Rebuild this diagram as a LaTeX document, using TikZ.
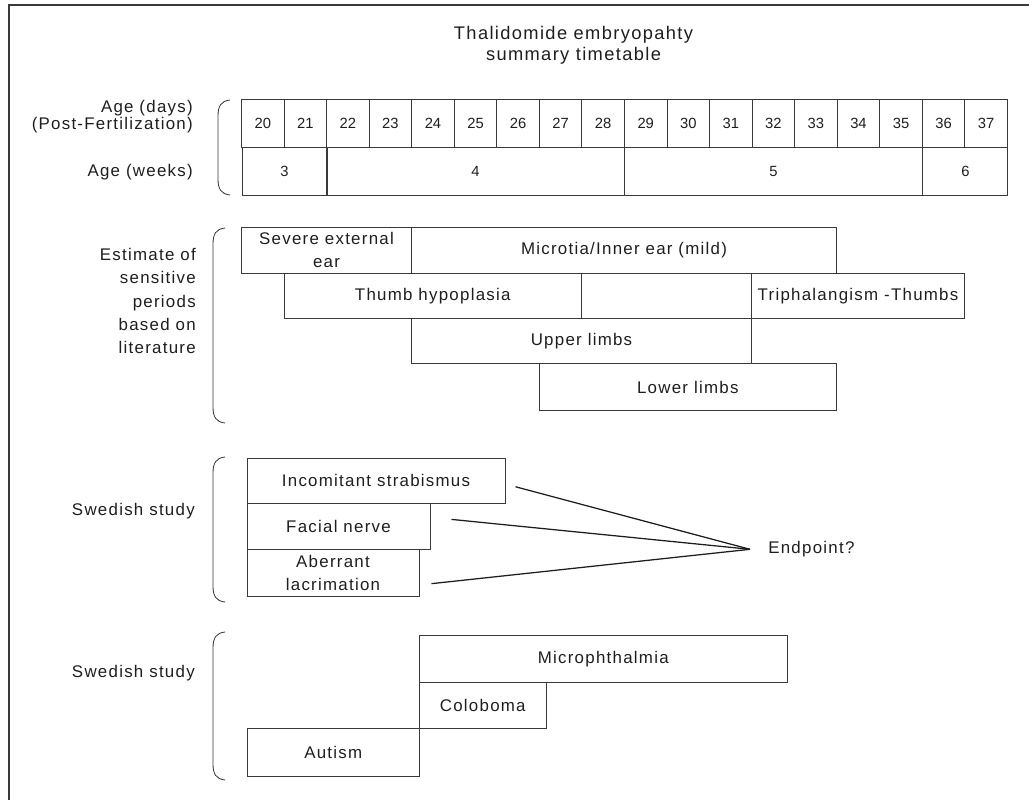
\documentclass[tikz,border=0pt]{standalone}
\usepackage{fontspec}
\usetikzlibrary{positioning}
\newfontfamily\lblfont[LetterSpace=7.5]{Liberation Sans}
\newfontfamily\numfont{Liberation Sans}
\definecolor{ink}{HTML}{3A3A3A}
\definecolor{txt}{HTML}{1E1E1E}
\tikzset{
  bar/.style={draw=ink, line width=0.7pt, inner sep=0pt, align=center, text=txt,
    font=\lblfont\fontsize{12}{16.4}\selectfont},
  size/.style 2 args={minimum width=#1*0.025cm, minimum height=#2*0.025cm},
  daycell/.style={draw=ink, line width=0.7pt, inner sep=0pt, text=txt,
    size={42.55}{47.5}, font=\numfont\fontsize{10.5}{12}\selectfont},
  weekbox/.style={daycell, size={85.1}{47.65}},
  side/.style={align=right, anchor=east, inner sep=0pt, text=txt,
    font=\lblfont\fontsize{12}{16.4}\selectfont},
  sidebrace/.style={draw=ink, line width=0.6pt},
  link/.style={draw=txt, line width=0.9pt},
}
\begin{document}
\begin{tikzpicture}[x=0.025cm, y=-0.025cm]
  \useasboundingbox (0,0) rectangle (1029,800);
  % 边框
  \draw[ink, line width=1.4pt] (9,800) -- (9,5) -- (1029,5);

  % 标题
  \node[align=center, text=txt, font=\lblfont\fontsize{13}{15}\selectfont] (title) at (573.5,45)
    {Thalidomide embryopahty\\summary timetable};

  % 天数
  \foreach \d [count=\i from 0] in {20,...,37}
    \node[daycell] (d\d) at ({262.775+42.55*\i},123.6) {\d};

  % 周数
  \node[weekbox] (w3) at ([yshift=-0.595cm]d20.south east) {3};
  \node[weekbox, size={297.85}{47.65}] (w4) at ([yshift=-0.595cm]d25.south) {4};
  \node[weekbox, size={297.85}{47.65}] (w5) at ([yshift=-0.595cm]d32.south) {5};
  \node[weekbox] (w6) at ([yshift=-0.595cm]d36.south east) {6};

  % 左侧说明
  \node[side, font=\lblfont\fontsize{12}{11.8}\selectfont] (lbldays) at (193,116.5)
    {Age (days)\\(Post-Fertilization)};
  \node[side] (lblweeks) at (193,172) {Age (weeks)};
  \node[side] (lblest) at (196,301) {Estimate of\\sensitive\\periods\\based on\\literature};
  \node[side] (lblswe) at (195,510.7) {Swedish study};
  \node[side] (lblswetwo) at (195,673.3) {Swedish study};

  % 括号
  \foreach \xa/\ya/\yb in {218/100/195, 213/228/423, 213/457/602, 213/632/780}
    \draw[sidebrace] (\xa+12,\ya) .. controls (\xa+3,\ya+1) and (\xa,\ya+6) .. (\xa,\ya+16)
      -- (\xa,\yb-16) .. controls (\xa,\yb-6) and (\xa+3,\yb-1) .. (\xa+12,\yb);

  % 敏感期
  \node[bar, size={170}{46}] (extear) at (326.5,250) {Severe external\\ear};
  \node[bar, size={425}{46}] (microtia) at (624,250) {Microtia/Inner ear (mild)};
  \node[bar, size={297.5}{45.5}] (thumb) at (432.75,295.75) {Thumb hypoplasia};
  \node[bar, size={170}{45.5}] (blank) at (666.5,295.75) {};
  \node[bar, size={213}{45.5}] (triph) at (858,295.75) {Triphalangism -Thumbs};
  \node[bar, size={340}{45}] (upper) at (581.5,341) {Upper limbs};
  \node[bar, size={297.5}{47}] (lower) at (687.75,387) {Lower limbs};

  % 瑞典研究 1
  \node[bar, size={258}{45.5}] (strab) at (376,480.75) {Incomitant strabismus};
  \node[bar, size={183}{45.8}] (facial) at (338.5,526.4) {Facial nerve};
  \node[bar, size={172}{46.7}] (lacri) at (333,572.65) {Aberrant\\lacrimation};
  \coordinate (meet) at (750,549.3);
  \node[side, anchor=west, right=0.45cm of meet] (endpt) {Endpoint?};
  \draw[link] ([shift={(10,6)}]strab.east) -- (meet);
  \draw[link] ([shift={(21,-7)}]facial.east) -- (meet);
  \draw[link] ([shift={(12,11)}]lacri.east) -- (meet);

  % 瑞典研究 2
  \node[bar, size={367.5}{47.3}] (microph) at (603.25,658.65) {Microphthalmia};
  \node[bar, size={126.5}{46}] (colob) at (482.75,705.3) {Coloboma};
  \node[bar, size={172.5}{47.7}] (autism) at (333.25,752.15) {Autism};
\end{tikzpicture}
\end{document}
